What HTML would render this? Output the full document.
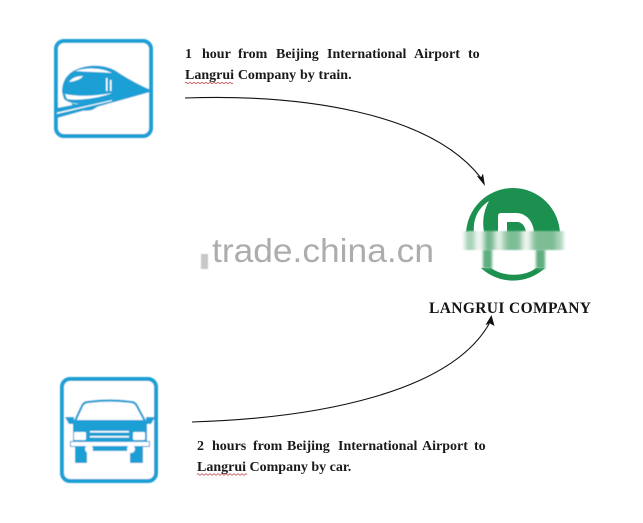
<!DOCTYPE html>
<html>
<head>
<meta charset="utf-8">
<style>
html,body{margin:0;padding:0;background:#fff;width:643px;height:523px;overflow:hidden}
svg{display:block}
.t{font-family:"Liberation Serif",serif;font-weight:bold;font-size:14px;fill:#1a1a1a}
</style>
</head>
<body>
<svg width="643" height="523" viewBox="0 0 643 523" xmlns="http://www.w3.org/2000/svg">
<defs>
<filter id="b1" x="-20%" y="-20%" width="140%" height="140%"><feGaussianBlur stdDeviation="0.5"/></filter>
<filter id="b2" x="-20%" y="-30%" width="140%" height="160%"><feGaussianBlur stdDeviation="2.2 0.8"/></filter>
<filter id="b3" x="-5%" y="-5%" width="110%" height="110%"><feGaussianBlur stdDeviation="0.35"/></filter>
<filter id="b4" x="-50%" y="-20%" width="200%" height="140%"><feGaussianBlur stdDeviation="1.2"/></filter>
<clipPath id="top"><rect x="460" y="180" width="110" height="52"/></clipPath>
</defs>

<!-- train icon -->
<g filter="url(#b1)">
<rect x="56" y="41" width="95" height="95" rx="8" fill="#fff" stroke="#1e9fd4" stroke-width="4"/>
<path d="M62 92 C62 80 68 72 80 68 C92 64 106 65 116 71 C128 79 141 86 151 90 C135 96 118 101 102 103 C88 105 70 105 64 99 Z" fill="#1e9fd4"/>
<path d="M75 71 C88 67 102 68 112 73 C100 72 88 72 75 71 Z" fill="#fff"/>
<path d="M69 82 C72 78 76 76 83 76 C81 79 76 81 69 82 Z" fill="#fff"/>
<rect x="106" y="78" width="1.500" height="13" fill="#fff"/>
<rect x="110" y="80" width="1.500" height="11" fill="#fff"/>
<path d="M65 94 C80 97 96 96 112 93 C100 98 78 101 67 99 Z" fill="#fff"/>
<path d="M71 103 C85 107 98 105 106 102 L92 110 C84 112 75 110 71 103 Z" fill="#1e9fd4"/>
<path d="M57 108 L150 90 L150 92 L57 118 Z" fill="#1e9fd4"/>
<path d="M57 112.500 L112 100 L112 101 L57 114 Z" fill="#fff"/>
</g>

<!-- car icon -->
<g filter="url(#b1)">
<rect x="62" y="379" width="94" height="102" rx="8" fill="#fff" stroke="#1e9fd4" stroke-width="4"/>
<path d="M75 421 L82 406 Q84 402 88 402 Q110 399 131 402 Q135 402 137 406 L145 421" fill="#fff" stroke="#1e9fd4" stroke-width="2.200"/>
<path d="M65 417 L74 417 L74 424 L69 424 Z M155 417 L146 417 L146 424 L151 424 Z" fill="#1e9fd4"/>
<rect x="73" y="420" width="74" height="26" fill="#1e9fd4"/>
<rect x="74" y="432" width="12" height="8" rx="1" fill="#fff"/>
<rect x="133" y="432" width="12" height="8" rx="1" fill="#fff"/>
<rect x="90" y="431" width="39" height="1.500" fill="#fff"/>
<rect x="90" y="436" width="39" height="1.500" fill="#fff"/>
<rect x="70.500" y="441.500" width="79" height="5" fill="#fff" stroke="#1e9fd4" stroke-width="1"/>
<rect x="76" y="447" width="67" height="4" fill="#1e9fd4"/>
<rect x="75" y="447" width="12" height="16" fill="#1e9fd4"/>
<rect x="130" y="447" width="13" height="16" fill="#1e9fd4"/>
<circle cx="89" cy="449" r="4" fill="#fff"/>
<circle cx="131" cy="449" r="4" fill="#fff"/>
</g>

<!-- logo -->
<g filter="url(#b3)">
<circle cx="513" cy="235" r="47" fill="#1f9150" clip-path="url(#top)"/>
<path d="M489 201 C477 209 473 220 474 232 L484 232 C482 220 484 210 489 201 Z" fill="#fff"/>
<path d="M498 232 L498 216 Q498 213 501 213 L516 213 C526 213 533 221 534 232 Z" fill="#fff"/>
<path d="M507 232 L507 222 L517 222 C522 222 525 226 526 232 Z" fill="#1f9150"/>
<path d="M481 268 A47 47 0 0 0 545 268 L536 268 C525 277 503 277 491 268 Z" fill="#1f9150"/>
</g>
<g filter="url(#b4)">
<rect x="483" y="249" width="9" height="20" fill="#5fae80"/>
<rect x="536" y="249" width="9" height="20" fill="#5fae80"/>
</g>
<g filter="url(#b2)">
<rect x="465" y="231" width="98" height="19" fill="#a9d3b8"/>
<rect x="475" y="231" width="8" height="19" fill="#eef6f0"/>
<rect x="485" y="231" width="8" height="19" fill="#6fb68b"/>
<rect x="496" y="231" width="6" height="19" fill="#e4f1e8"/>
<rect x="506" y="231" width="14" height="19" fill="#7dbd96"/>
<rect x="523" y="231" width="7" height="19" fill="#eef6f0"/>
<rect x="534" y="231" width="22" height="19" fill="#7dbd96"/>
</g>

<!-- watermark -->
<text x="212" y="262" font-family="'Liberation Sans',sans-serif" font-size="33" fill="#adadad" textLength="222" lengthAdjust="spacingAndGlyphs" filter="url(#b3)">trade.china.cn</text>
<rect x="201" y="254" width="7" height="15" fill="#c8c8c8" filter="url(#b1)"/>

<!-- connectors -->
<path d="M185 98 C300 94 430 112 481 178" fill="none" stroke="#111" stroke-width="1.100"/>
<path d="M485 186 L476.500 175.500 L481 177.500 L483 173.500 Z" fill="#111"/>
<path d="M192 422 C320 418 450 392 489 324" fill="none" stroke="#111" stroke-width="1.100"/>
<path d="M491.500 315 L494.500 326 L490 323.500 L485.500 325 Z" fill="#111"/>

<!-- text -->
<text class="t" y="58"><tspan x="185">1</tspan><tspan x="202">hour</tspan><tspan x="238">from</tspan><tspan x="276">Beijing</tspan><tspan x="327">International</tspan><tspan x="414">Airport</tspan><tspan x="468">to</tspan></text>
<text class="t" x="185" y="79" word-spacing="0.300">Langrui Company by train.</text>
<path d="M185 83 q1 -1.500 2 0 t2 0 t2 0 t2 0 t2 0 t2 0 t2 0 t2 0 t2 0 t2 0 t2 0 t2 0 t2 0 t2 0 t2 0 t2 0 t2 0 t2 0 t2 0 t2 0 t2 0 t2 0 t2 0 t2 0" fill="none" stroke="#c0404a" stroke-width="0.700"/>

<text class="t" y="450"><tspan x="197">2</tspan><tspan x="212">hours</tspan><tspan x="253">from</tspan><tspan x="287">Beijing</tspan><tspan x="338">International</tspan><tspan x="422">Airport</tspan><tspan x="474">to</tspan></text>
<text class="t" x="197" y="471">Langrui Company by car.</text>
<path d="M197 474.500 q1 -1.500 2 0 t2 0 t2 0 t2 0 t2 0 t2 0 t2 0 t2 0 t2 0 t2 0 t2 0 t2 0 t2 0 t2 0 t2 0 t2 0 t2 0 t2 0 t2 0 t2 0 t2 0 t2 0 t2 0 t2 0 t2 0" fill="none" stroke="#c0404a" stroke-width="0.700"/>

<text x="429" y="313" font-family="'Liberation Serif',serif" font-weight="bold" font-size="15.500" fill="#151515" textLength="162" lengthAdjust="spacing">LANGRUI COMPANY</text>
</svg>
</body>
</html>
